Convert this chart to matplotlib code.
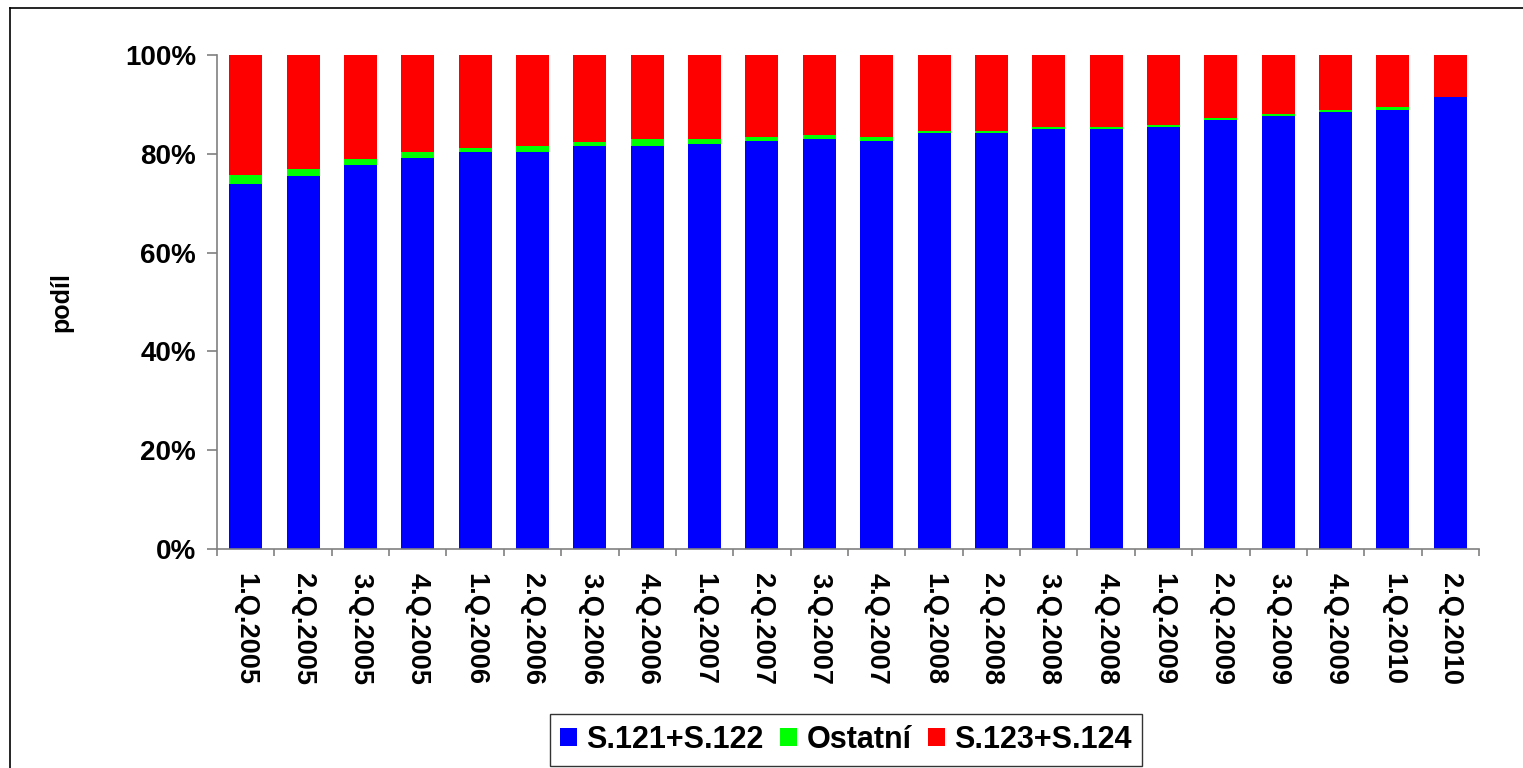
import matplotlib
matplotlib.use("Agg")
import matplotlib.pyplot as plt
from matplotlib.ticker import PercentFormatter, FixedLocator
from matplotlib.lines import Line2D
import numpy as np

plt.rcParams['font.family'] = ['Liberation Sans', 'DejaVu Sans']
plt.rcParams['font.weight'] = 'bold'

categories = ["1.Q.2005", "2.Q.2005", "3.Q.2005", "4.Q.2005",
              "1.Q.2006", "2.Q.2006", "3.Q.2006", "4.Q.2006",
              "1.Q.2007", "2.Q.2007", "3.Q.2007", "4.Q.2007",
              "1.Q.2008", "2.Q.2008", "3.Q.2008", "4.Q.2008",
              "1.Q.2009", "2.Q.2009", "3.Q.2009", "4.Q.2009",
              "1.Q.2010", "2.Q.2010"]
s121_122 = [73.8, 75.6, 77.7, 79.1, 80.4, 80.4, 81.6, 81.6, 82.0, 82.6, 83.0,
            82.6, 84.2, 84.2, 85.0, 85.0, 85.4, 86.8, 87.7, 88.5, 88.9, 91.5]
ostatni = [1.9, 1.4, 1.2, 1.3, 0.8, 1.2, 0.8, 1.4, 1.0, 0.8, 0.8,
           0.8, 0.4, 0.4, 0.4, 0.4, 0.4, 0.4, 0.4, 0.4, 0.6, 0.05]
s123_124 = [100 - a - b for a, b in zip(s121_122, ostatni)]
series_names = ["S.121+S.122", "Ostatní", "S.123+S.124"]
colors = ["#0000FF", "#00FF00", "#FF0000"]

fig = plt.figure(figsize=(15.23, 7.68), dpi=100)
ax = fig.add_axes([217/1523, 1-549/768, (1479-217)/1523, (549-55)/768])

x = np.arange(len(categories))
w = 0.575
bottom = np.zeros(len(categories))
for vals, name, c in zip([s121_122, ostatni, s123_124], series_names, colors):
    v = np.array(vals)
    ax.bar(x, v, w, bottom=bottom, color=c, label=name, linewidth=0)
    bottom += v

ax.set_xlim(-0.5, len(categories) - 0.5)
ax.set_ylim(0, 100)
ax.yaxis.set_major_locator(FixedLocator([0, 20, 40, 60, 80, 100]))
ax.yaxis.set_major_formatter(PercentFormatter(100, decimals=0))

ax.set_xticks(x)
ax.set_xticklabels(categories, rotation=270, fontsize=19.5, fontweight='bold',
                   va='top', ha='center')
ax.set_xticks(np.arange(-0.5, len(categories), 1.0), minor=True)
ax.tick_params(axis='x', which='major', length=0, pad=17)
ax.tick_params(axis='x', which='minor', length=5, color='#808080', width=1.2, direction='out')
ax.tick_params(axis='y', which='major', length=7, color='#808080', width=1.2,
               labelsize=20, pad=8)
for lab in ax.get_yticklabels():
    lab.set_fontweight('bold')

for s in ['top', 'right']:
    ax.spines[s].set_visible(False)
for s in ['left', 'bottom']:
    ax.spines[s].set_color('#808080')
    ax.spines[s].set_linewidth(1.2)

ax.set_ylabel("podíl", fontsize=18, fontweight='bold')
ax.yaxis.set_label_coords(-(217-73)/(1479-217), 0.5)

leg = fig.legend(loc='center', bbox_to_anchor=(846/1523, 1-740/768), ncol=3,
                 frameon=True, fancybox=False, handlelength=0.55,
                 handleheight=0.55, handletextpad=0.3, columnspacing=0.55,
                 borderpad=0.35, borderaxespad=0, prop={'weight': 'bold', 'size': 22})
leg.get_frame().set_edgecolor('black')
leg.get_frame().set_linewidth(1.0)

# figure border (left and top visible)
fig.add_artist(Line2D([10/1523, 10/1523], [0, 1-8/768], transform=fig.transFigure,
                      color='black', linewidth=1.2))
fig.add_artist(Line2D([10/1523, 1], [1-8/768, 1-8/768], transform=fig.transFigure,
                      color='black', linewidth=1.2))

fig.savefig("out.png", dpi=100)
